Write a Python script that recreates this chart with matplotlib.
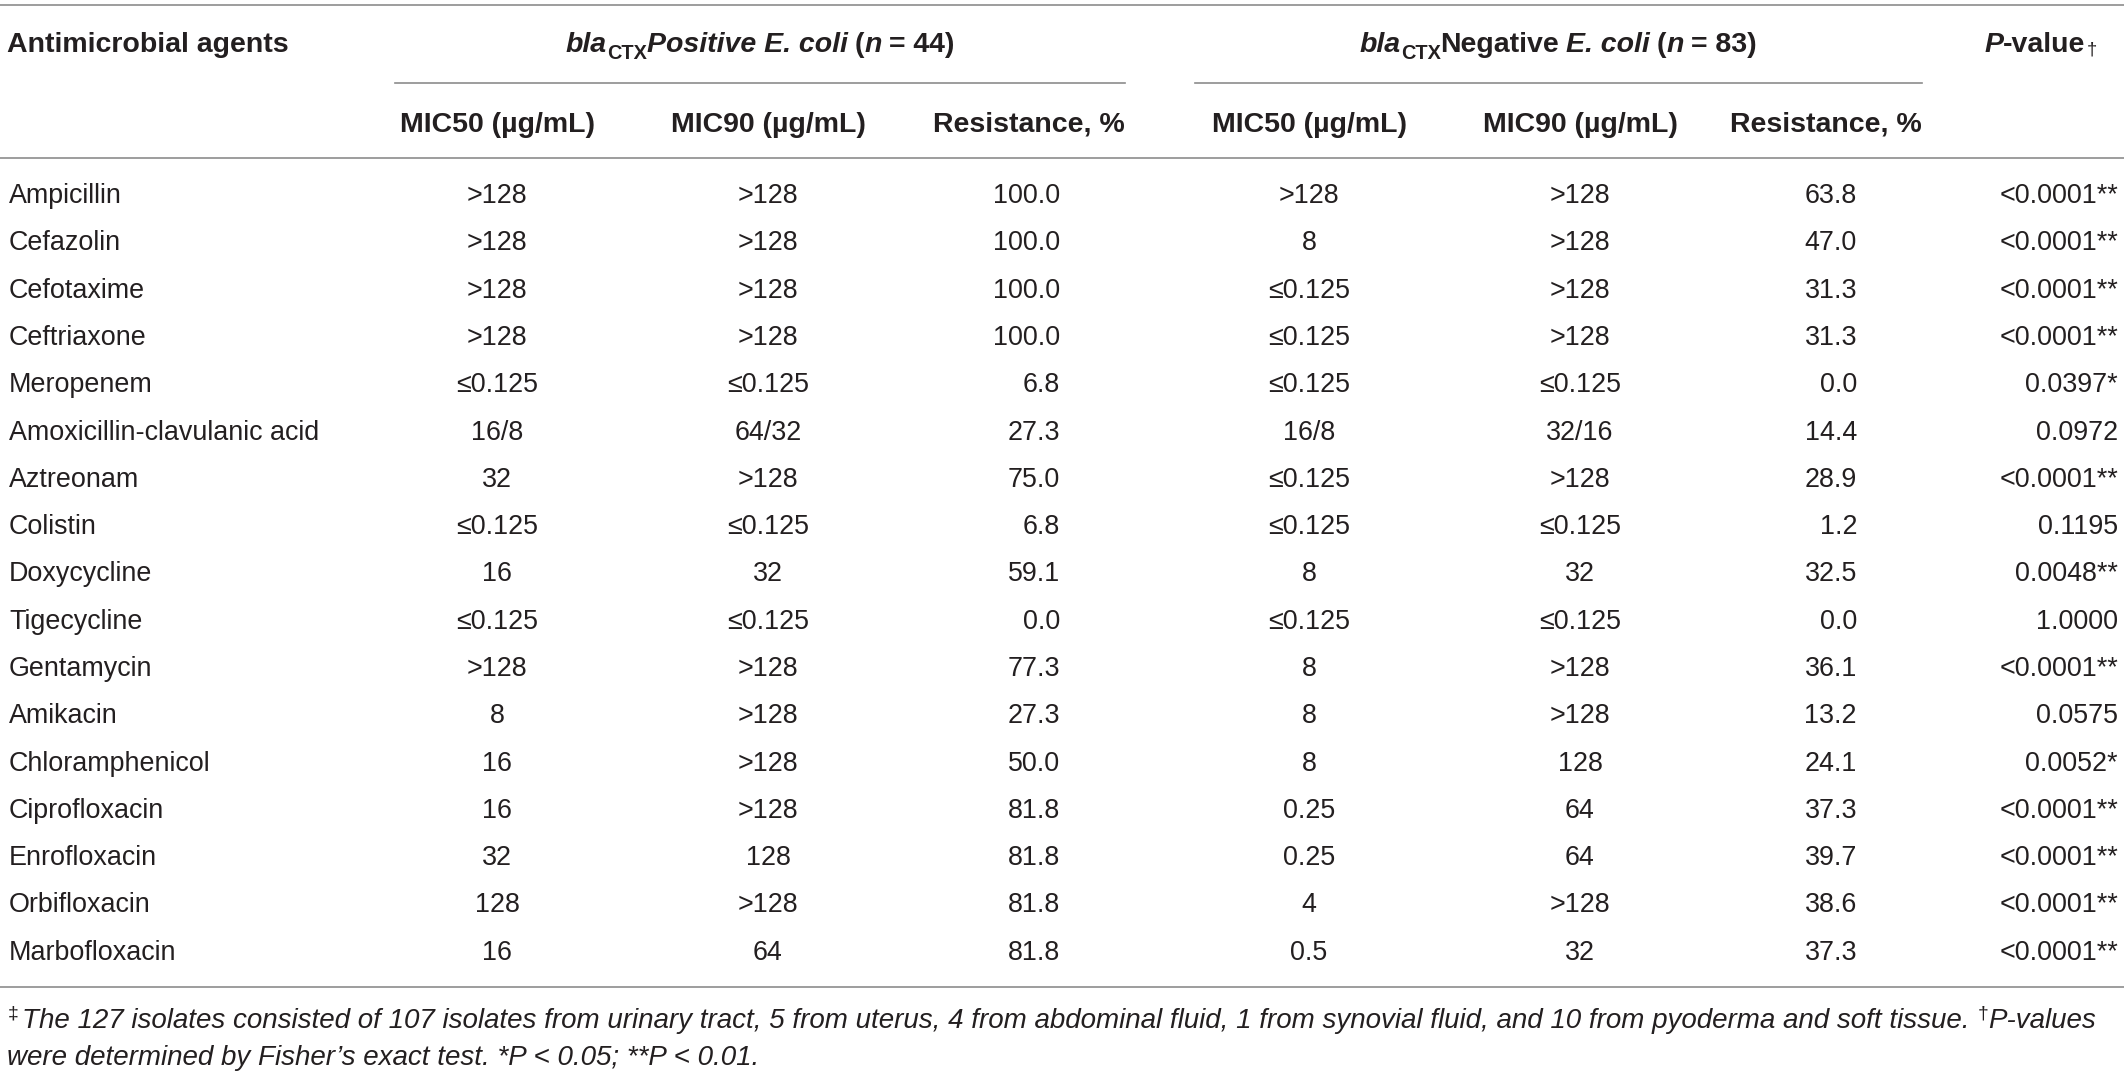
import matplotlib
matplotlib.use("Agg")
import matplotlib.pyplot as plt

plt.rcParams['font.family'] = ['Liberation Sans', 'DejaVu Sans']

agents = ["Ampicillin", "Cefazolin", "Cefotaxime", "Ceftriaxone", "Meropenem",
          "Amoxicillin-clavulanic acid", "Aztreonam", "Colistin", "Doxycycline",
          "Tigecycline", "Gentamycin", "Amikacin", "Chloramphenicol", "Ciprofloxacin",
          "Enrofloxacin", "Orbifloxacin", "Marbofloxacin"]
pos_mic50 = [">128", ">128", ">128", ">128", "≤0.125", "16/8", "32", "≤0.125", "16",
             "≤0.125", ">128", "8", "16", "16", "32", "128", "16"]
pos_mic90 = [">128", ">128", ">128", ">128", "≤0.125", "64/32", ">128", "≤0.125", "32",
             "≤0.125", ">128", ">128", ">128", ">128", "128", ">128", "64"]
pos_res = ["100.0", "100.0", "100.0", "100.0", "6.8", "27.3", "75.0", "6.8", "59.1",
           "0.0", "77.3", "27.3", "50.0", "81.8", "81.8", "81.8", "81.8"]
neg_mic50 = [">128", "8", "≤0.125", "≤0.125", "≤0.125", "16/8", "≤0.125", "≤0.125", "8",
             "≤0.125", "8", "8", "8", "0.25", "0.25", "4", "0.5"]
neg_mic90 = [">128", ">128", ">128", ">128", "≤0.125", "32/16", ">128", "≤0.125", "32",
             "≤0.125", ">128", ">128", "128", "64", "64", ">128", "32"]
neg_res = ["63.8", "47.0", "31.3", "31.3", "0.0", "14.4", "28.9", "1.2", "32.5",
           "0.0", "36.1", "13.2", "24.1", "37.3", "39.7", "38.6", "37.3"]
p_vals = ["<0.0001**", "<0.0001**", "<0.0001**", "<0.0001**", "0.0397*", "0.0972",
          "<0.0001**", "0.1195", "0.0048**", "1.0000", "<0.0001**", "0.0575", "0.0052*",
          "<0.0001**", "<0.0001**", "<0.0001**", "<0.0001**"]

W, H = 2124, 1078
TXT = '#231f20'
LINE = '#8c8c8c'
FS = 19.4      # body size (pt at 100 dpi)
HFS = 20.5     # header size
NFS = 20.0     # footnote size

fig = plt.figure(figsize=(W / 100, H / 100), dpi=100)
ax = fig.add_axes([0, 0, 1, 1])
ax.set_xlim(0, W)
ax.set_ylim(H, 0)
ax.axis('off')
renderer = fig.canvas.get_renderer()


def runs(x, y, parts, ha='left'):
    # parts: (text, fontsize, weight, style, gap before in px, dy in px)
    objs = []
    total = 0
    for text, size, weight, style, gap, dy in parts:
        t = ax.text(0, y + dy, text, fontsize=size, fontweight=weight, fontstyle=style,
                    color=TXT, ha='left', va='baseline')
        w = t.get_window_extent(renderer).width
        objs.append((t, w, gap))
        total += gap + w
    if ha == 'center':
        cur = x - total / 2
    elif ha == 'right':
        cur = x - total
    else:
        cur = x
    for t, w, gap in objs:
        cur += gap
        t.set_x(cur)
        cur += w


# rules
ax.plot([0, W], [5, 5], color=LINE, lw=1.2)
ax.plot([395, 1125], [83, 83], color=LINE, lw=1.2)
ax.plot([1195, 1922], [83, 83], color=LINE, lw=1.2)
ax.plot([0, W], [158, 158], color=LINE, lw=1.2)
ax.plot([0, W], [987, 987], color=LINE, lw=1.2)

# header row 1
sp = 7
sub = HFS * 0.7
ax.text(7, 52, "Antimicrobial agents", fontsize=HFS, fontweight='bold', color=TXT,
        ha='left', va='baseline')
runs(760, 52, [("bla", HFS, 'bold', 'italic', 0, 0),
               ("CTX", sub, 'bold', 'normal', 0, 7),
               ("Positive E. coli", HFS, 'bold', 'italic', 0, 0),
               ("(", HFS, 'bold', 'normal', sp, 0),
               ("n", HFS, 'bold', 'italic', 0, 0),
               ("= 44)", HFS, 'bold', 'normal', sp, 0)], ha='center')
runs(1558, 52, [("bla", HFS, 'bold', 'italic', 0, 0),
                ("CTX", sub, 'bold', 'normal', 0, 7),
                ("Negative", HFS, 'bold', 'normal', 0, 0),
                ("E. coli", HFS, 'bold', 'italic', sp, 0),
                ("(", HFS, 'bold', 'normal', sp, 0),
                ("n", HFS, 'bold', 'italic', 0, 0),
                ("= 83)", HFS, 'bold', 'normal', sp, 0)], ha='center')
runs(2097, 52, [("P", HFS, 'bold', 'italic', 0, 0),
                ("-value", HFS, 'bold', 'normal', 0, 0),
                ("†", HFS * 0.65, 'normal', 'normal', 1, 3)], ha='right')

# header row 2
mic50_hdr = "MIC50 (µg/mL)"
mic90_hdr = "MIC90 (µg/mL)"
res_hdr = "Resistance, %"
for cx in (497, 1309):
    ax.text(cx, 132, mic50_hdr, fontsize=HFS, fontweight='bold', color=TXT,
            ha='center', va='baseline')
for cx in (768, 1580):
    ax.text(cx, 132, mic90_hdr, fontsize=HFS, fontweight='bold', color=TXT,
            ha='center', va='baseline')
for rx in (1125, 1922):
    ax.text(rx, 132, res_hdr, fontsize=HFS, fontweight='bold', color=TXT,
            ha='right', va='baseline')

# body rows
y0, dy = 203, 47.3
for i, name in enumerate(agents):
    y = y0 + i * dy
    kw = dict(fontsize=FS, color=TXT, va='baseline')
    ax.text(9, y, name, ha='left', **kw)
    ax.text(497, y, pos_mic50[i], ha='center', **kw)
    ax.text(768, y, pos_mic90[i], ha='center', **kw)
    ax.text(1060, y, pos_res[i], ha='right', **kw)
    ax.text(1309, y, neg_mic50[i], ha='center', **kw)
    ax.text(1580, y, neg_mic90[i], ha='center', **kw)
    ax.text(1857, y, neg_res[i], ha='right', **kw)
    ax.text(2118, y, p_vals[i], ha='right', **kw)

# footnotes
note1 = ("The 127 isolates consisted of 107 isolates from urinary tract, 5 from uterus, "
         "4 from abdominal fluid, 1 from synovial fluid, and 10 from pyoderma and soft tissue.")
note2 = "were determined by Fisher’s exact test. *P < 0.05; **P < 0.01."
runs(8, 1028, [("‡", NFS * 0.7, 'normal', 'normal', 0, -9),
               (note1, NFS, 'normal', 'italic', 3, 0),
               ("†", NFS * 0.7, 'normal', 'normal', 8, -9),
               ("P-values", NFS, 'normal', 'italic', 0, 0)])
ax.text(7, 1065, note2, fontsize=NFS, fontstyle='italic', color=TXT,
        ha='left', va='baseline')

fig.savefig("out.png", dpi=100)
